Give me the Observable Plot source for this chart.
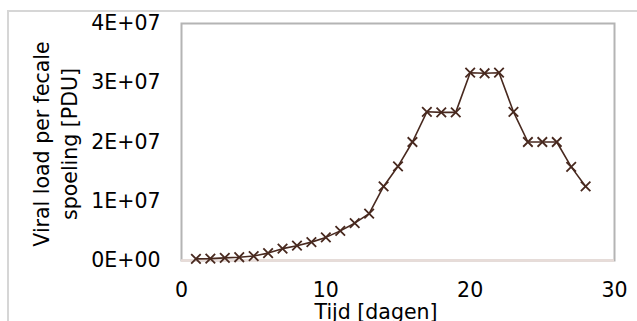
<!DOCTYPE html>
<html><head><meta charset="utf-8">
<script src="https://cdn.jsdelivr.net/npm/d3@7"></script>
<script src="https://cdn.jsdelivr.net/npm/@observablehq/plot@0.6"></script>
<style>
html,body{margin:0;padding:0;background:#fff;}
#wrap{position:relative;width:637px;height:321px;overflow:hidden;}
#border{position:absolute;left:7px;top:10px;width:700px;height:400px;border-left:2px solid #d6d6d6;border-top:2px solid #d6d6d6;}
#chart{position:absolute;left:0;top:0;}
</style></head><body>
<div id="wrap"><div id="border"></div><div id="chart"></div></div>
<script>
const days = [1,2,3,4,5,6,7,8,9,10,11,12,13,14,15,16,17,18,19,20,21,22,23,24,25,26,27,28];
const viralLoad = [2.8e5,3.2e5,4.5e5,5.5e5,7.5e5,1.25e6,2.0e6,2.5e6,3.1e6,3.9e6,5.0e6,6.3e6,7.9e6,1.25e7,1.59e7,2.0e7,2.51e7,2.5e7,2.5e7,3.17e7,3.16e7,3.17e7,2.51e7,2.0e7,2.0e7,2.0e7,1.58e7,1.25e7];
const xTicks = [0,10,20,30];
const yTicks = [0,1e7,2e7,3e7,4e7];
const xTitle = "Tijd [dagen]";
const yTitle = ["Viral load per fecale","spoeling [PDU]"];

function sci(v){
  if (v === 0) return "0E+00";
  const e = Math.floor(Math.log10(Math.abs(v)));
  const m = Math.round(v / 10**e * 100) / 100;
  return `${m}E${e<0?"-":"+"}${String(Math.abs(e)).padStart(2,"0")}`;
}
const data = days.map((d,i)=>({day:d, load:viralLoad[i]}));
const ink = "#48291f";
const plot = Plot.plot({
  width:637, height:321, marginLeft:181, marginRight:23, marginTop:23, marginBottom:61,
  style:{fontFamily:"'DejaVu Sans', Verdana, sans-serif", fontSize:"20.5px", color:"#000", background:"transparent", overflow:"visible"},
  x:{domain:[0,30]},
  y:{domain:[0,4e7]},
  marks:[
    Plot.frame({stroke:"#b4b4b4", strokeWidth:2}),
    Plot.ruleY([0],{stroke:"#e8dcd8", strokeWidth:2.5}),
    Plot.axisX({ticks:xTicks, tickSize:0, tickPadding:22, label:null}),
    Plot.axisY({ticks:yTicks, tickSize:0, tickPadding:21, tickFormat:sci, label:null}),
    Plot.line(data,{x:"day", y:"load", stroke:ink, strokeWidth:1.6}),
    Plot.dot(data,{x:"day", y:"load", symbol:"times", r:4.4, stroke:ink, strokeWidth:1.8}),
    Plot.text([yTitle.join("\n")],{text:d=>d, frameAnchor:"left", textAnchor:"middle", rotate:-90, lineAnchor:"top", dx:-153, dy:2, lineHeight:1.38, fill:"#000"}),
    Plot.text([xTitle],{text:d=>d, frameAnchor:"bottom", lineAnchor:"bottom", dy:58, dx:-22, fill:"#000"})
  ]
});
document.getElementById("chart").appendChild(plot);
</script>
</body></html>
